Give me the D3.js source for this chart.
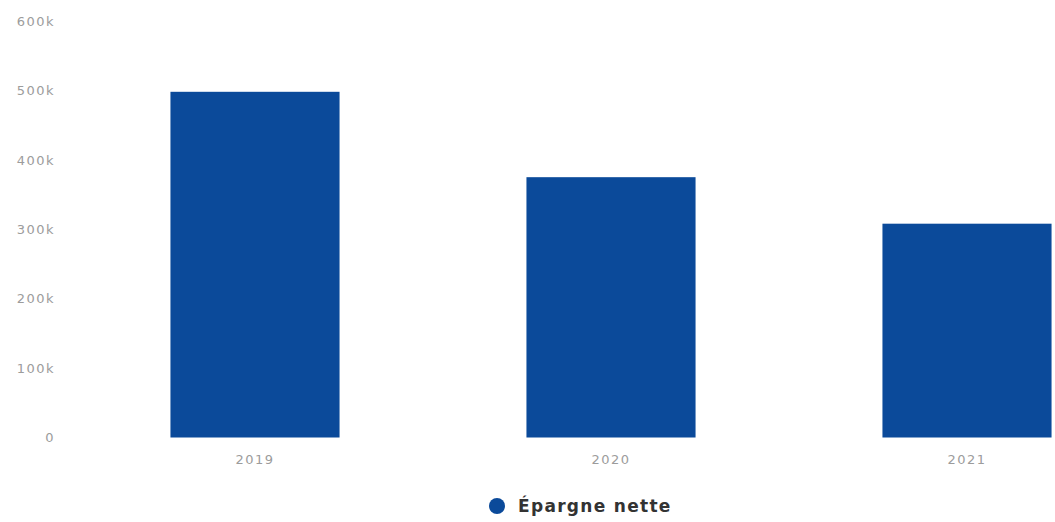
<!DOCTYPE html>
<html>
<head>
<meta charset="utf-8">
<script src="https://cdn.jsdelivr.net/npm/d3@7"></script>
<style>
  html, body { margin: 0; padding: 0; background: #fff; }
  svg { display: block; }
  .tick text { font-family: "DejaVu Sans", sans-serif; fill: #9c9c9c; letter-spacing: 1.5px; }
</style>
</head>
<body>
<svg id="chart" width="1055" height="522"></svg>
<script>
// Net savings by year
const years = ["2019", "2020", "2021"];
const netSavings = [498000, 375000, 308000];
const yTicks = [0, 100000, 200000, 300000, 400000, 500000, 600000];
const seriesName = "Épargne nette";

const W = 1055, H = 522;
const svg = d3.select("#chart");
const barColor = "#0b4a9a";

const x = d3.scaleBand().domain(years).range([77, 1145]).paddingInner(0.525).paddingOuter(0.2625);
const y = d3.scaleLinear().domain([0, 600000]).range([437.5, 21]);

// y axis labels
const yAxis = d3.axisLeft(y).tickValues(yTicks).tickSize(0).tickPadding(0)
  .tickFormat(d => d === 0 ? "0" : (d / 1000) + "k");
svg.append("g").attr("transform", "translate(55,0)").call(yAxis)
  .call(g => g.select(".domain").remove())
  .selectAll("text").attr("font-size", 13);

// bars
svg.append("g").selectAll("rect").data(years).join("rect")
  .attr("x", d => x(d))
  .attr("width", x.bandwidth())
  .attr("y", (d, i) => y(netSavings[i]))
  .attr("height", (d, i) => y(0) - y(netSavings[i]))
  .attr("fill", barColor);

// x axis labels
const xAxis = d3.axisBottom(x).tickSize(0).tickPadding(0);
svg.append("g").attr("transform", "translate(0,455)").call(xAxis)
  .call(g => g.select(".domain").remove())
  .selectAll("text").attr("font-size", 13);

// legend
const lg = svg.append("g").attr("transform", "translate(497,506)");
lg.append("circle").attr("r", 8).attr("fill", barColor);
lg.append("text").attr("x", 21).attr("y", 6)
  .attr("font-family", "DejaVu Sans, sans-serif").attr("font-weight", "bold")
  .attr("font-size", 17).attr("letter-spacing", "1.3px").attr("fill", "#333").text(seriesName);
</script>
</body>
</html>
